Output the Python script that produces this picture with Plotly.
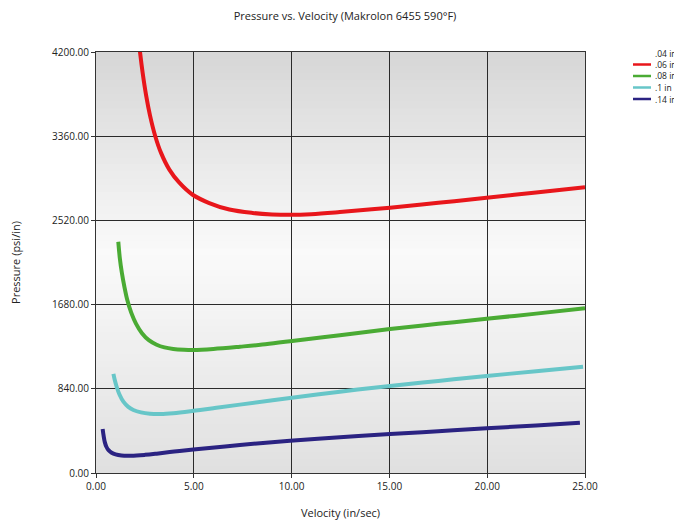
import plotly.graph_objects as go

# ---- data ----
series_names = [".04 in", ".06 in", ".08 in", ".1 in", ".14 in"]
series_colors = ["rgba(0,0,0,0)", "#e8161b", "#4aab34", "#67c6c8", "#2b2382"]

vel_04 = []
prs_04 = []

vel_06 = [2.12, 2.25, 2.39, 2.56, 2.76, 3.03, 3.32, 3.75, 4.26, 4.94, 5.79, 6.82,
          8.01, 9.00, 9.92, 11.0, 12.47, 15.03, 17.5, 19.97, 22.5, 25.0]
prs_06 = [4440, 4200, 3985, 3770, 3568, 3360, 3196, 3027, 2896, 2776, 2693, 2628,
          2594, 2580, 2576, 2582, 2603, 2647, 2695, 2747, 2798, 2850]

vel_08 = [1.14, 1.22, 1.32, 1.45, 1.60, 1.80, 2.05, 2.35, 2.7, 3.1, 3.5, 3.95, 4.5,
          4.98, 6.0, 7.36, 8.5, 9.92, 12.47, 15.03, 17.5, 19.97, 22.5, 25.0]
prs_08 = [2307, 2140, 2000, 1860, 1725, 1600, 1488, 1395, 1325, 1280, 1253, 1238, 1230,
          1228, 1238, 1260, 1281, 1315, 1375, 1436, 1488, 1538, 1590, 1643]

vel_10 = [0.89, 0.95, 1.06, 1.20, 1.40, 1.65, 1.91, 2.3, 2.76, 3.3, 3.95, 4.98, 6.0,
          7.36, 9.92, 12.47, 15.03, 17.5, 19.97, 22.5, 24.9]
prs_10 = [988, 935, 858, 783, 712, 660, 629, 605, 592, 589, 597, 620, 646,
          682, 748, 811, 868, 918, 968, 1015, 1061]

vel_14 = [0.34, 0.39, 0.45, 0.53, 0.64, 0.80, 1.00, 1.30, 1.80, 2.5, 3.10, 4.0, 4.98,
          7.36, 9.92, 12.47, 15.03, 17.5, 19.97, 22.5, 24.74]
prs_14 = [439, 370, 308, 262, 228, 202, 185, 174, 172, 181, 193, 214, 235,
          279, 322, 357, 388, 416, 446, 475, 502]

x_ticks = [0, 5, 10, 15, 20, 25]
y_ticks = [0, 840, 1680, 2520, 3360, 4200]

title_text = "Pressure vs. Velocity (Makrolon 6455 590°F)"
x_title = "Velocity (in/sec)"
y_title = "Pressure (psi/in)"

FONT = "Open Sans"
OFF = 8                      # page body margin offset of the rendered figure
W, H = 682 - OFF, 521 - OFF
ML, MR, MT, MB = 96 - OFF, 97, 52 - OFF, 48
PW, PH = W - ML - MR, H - MT - MB

fig = go.Figure()
all_x = [vel_04, vel_06, vel_08, vel_10, vel_14]
all_y = [prs_04, prs_06, prs_08, prs_10, prs_14]
for name, color, xs, ys in zip(series_names, series_colors, all_x, all_y):
    fig.add_trace(go.Scatter(
        x=xs if xs else [None], y=ys if ys else [None], name=name, mode="lines",
        line=dict(color=color, width=4, shape="spline", smoothing=1.0),
        showlegend=False, hoverinfo="skip"))

# vertical gradient background (gray - white - gray) as paper-referenced strips
shapes = []
n = 60
top_c, mid_c, bot_c = 214, 250, 224
mid_f = 0.52
for i in range(n):
    f0 = i / n
    f1 = (i + 1) / n
    fc = (f0 + f1) / 2  # fraction from bottom
    if fc < mid_f:
        t = fc / mid_f
        v = bot_c + (mid_c - bot_c) * t
    else:
        t = (fc - mid_f) / (1 - mid_f)
        v = mid_c + (top_c - mid_c) * t
    v = int(round(v))
    shapes.append(dict(type="rect", xref="paper", yref="paper", x0=0, x1=1,
                       y0=f0, y1=f1 + 0.002, line=dict(width=0),
                       fillcolor=f"rgb({v},{v},{v})", layer="below"))

# compact legend (swatch + label), positioned in paper space
annotations = []
leg_line_x0, leg_line_x1, leg_text_x = 633 - OFF, 651 - OFF, 653 - OFF
leg_y0, leg_dy = 53 - OFF, 11.5
for i, (name, color) in enumerate(zip(series_names, series_colors)):
    py = leg_y0 + i * leg_dy
    yp = (H - MB - py) / PH
    shapes.append(dict(type="line", xref="paper", yref="paper",
                       x0=(leg_line_x0 - ML) / PW, x1=(leg_line_x1 - ML) / PW,
                       y0=yp, y1=yp, line=dict(color=color, width=2.5)))
    annotations.append(dict(text=name, xref="paper", yref="paper",
                            x=(leg_text_x - ML) / PW, y=yp, xanchor="left",
                            yanchor="middle", showarrow=False,
                            font=dict(family=FONT, size=8.5, color="#222")))

fig.update_layout(
    width=W, height=H,
    margin=dict(l=ML, r=MR, t=MT, b=MB, autoexpand=False),
    paper_bgcolor="white",
    plot_bgcolor="rgba(0,0,0,0)",
    shapes=shapes,
    annotations=annotations,
    font=dict(family=FONT, size=10, color="#222"),
    title=dict(text=title_text, x=0.5, xanchor="center", y=0.984, yanchor="middle",
               font=dict(family=FONT, size=11, color="#222")),
    showlegend=False,
    xaxis=dict(range=[0, 25], tickvals=x_ticks, tickformat=".2f",
               showgrid=True, gridcolor="#2a2a2a", gridwidth=1,
               showline=True, linecolor="#333", linewidth=1, mirror=True,
               ticks="outside", ticklen=4, tickcolor="#333",
               zeroline=False, automargin=False,
               title=dict(text=x_title, font=dict(family=FONT, size=11), standoff=17)),
    yaxis=dict(range=[0, 4200], tickvals=y_ticks, tickformat=".2f",
               showgrid=True, gridcolor="#2a2a2a", gridwidth=1,
               showline=True, linecolor="#333", linewidth=1, mirror=True,
               ticks="outside", ticklen=4, tickcolor="#333",
               zeroline=False, automargin=False,
               title=dict(text=y_title, font=dict(family=FONT, size=11), standoff=38)),
)

fig.write_html("out.html")
